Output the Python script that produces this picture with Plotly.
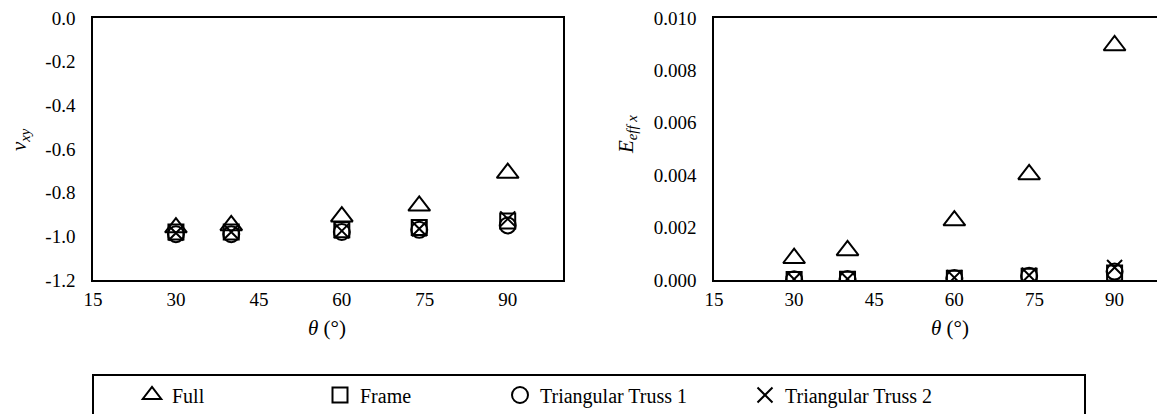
import plotly.graph_objects as go

# ---------------- data ----------------
theta = [30, 40, 60, 74, 90]

nu_full = [-0.96, -0.95, -0.91, -0.86, -0.71]
nu_frame = [-0.98, -0.98, -0.97, -0.96, -0.93]
nu_tt1 = [-0.99, -0.99, -0.98, -0.97, -0.95]
nu_tt2 = [-0.985, -0.98, -0.975, -0.965, -0.92]

E_full = [0.00083, 0.00113, 0.00227, 0.00403, 0.00895]
E_frame = [0.00002, 0.00003, 0.00007, 0.00014, 0.00027]
E_tt1 = [0.00003, 0.00004, 0.00008, 0.00016, 0.00032]
E_tt2 = [0.00003, 0.00004, 0.00009, 0.00018, 0.00048]

series_names = ["Full", "Frame", "Triangular Truss 1", "Triangular Truss 2"]

x_ticks = [15, 30, 45, 60, 75, 90]
nu_ticks = [0.0, -0.2, -0.4, -0.6, -0.8, -1.0, -1.2]
nu_ticktext = ["0.0", "-0.2", "-0.4", "-0.6", "-0.8", "-1.0", "-1.2"]
E_ticks = [0.0, 0.002, 0.004, 0.006, 0.008, 0.010]
E_ticktext = ["0.000", "0.002", "0.004", "0.006", "0.008", "0.010"]

# ---------------- style ----------------
W, H = 1165, 414
OFF = 8  # page body margin
FONT = "Liberation Serif"
symbols = ["triangle-up-open", "square-open", "circle-open", "x-thin-open"]
sizes = [19, 15, 16, 15]
legend_ids = ["legend", "legend2", "legend3", "legend4"]
legend_sym_px = [152, 340, 520, 765]

def px_x(p):
    return (p - OFF) / W

def px_y(p):
    return (H - (p - OFF)) / H

fig = go.Figure()

nu_series = [nu_full, nu_frame, nu_tt1, nu_tt2]
E_series = [E_full, E_frame, E_tt1, E_tt2]

for i, name in enumerate(series_names):
    fig.add_trace(go.Scatter(
        x=theta, y=nu_series[i], mode="markers", name=name,
        marker=dict(symbol=symbols[i], size=sizes[i], color="black",
                    line=dict(color="black", width=2)),
        xaxis="x", yaxis="y", legend=legend_ids[i], showlegend=True))
for i, name in enumerate(series_names):
    fig.add_trace(go.Scatter(
        x=theta, y=E_series[i], mode="markers", name=name,
        marker=dict(symbol=symbols[i], size=sizes[i], color="black",
                    line=dict(color="black", width=2)),
        xaxis="x2", yaxis="y2", showlegend=False))

axis_common = dict(showgrid=False, zeroline=False, showline=True,
                   linecolor="black", linewidth=1.5, ticks="",
                   automargin=False, ticklabeloverflow="allow",
                   tickfont=dict(family=FONT, size=19, color="black"))

dom_y = [px_y(280), px_y(18)]

layout = dict(
    width=W, height=H,
    margin=dict(l=0, r=0, t=0, b=0, pad=0, autoexpand=False),
    paper_bgcolor="white", plot_bgcolor="white",
    font=dict(family=FONT, size=19, color="black"),
    xaxis=dict(domain=[px_x(93), px_x(563)], range=[15, 100],
               tickvals=x_ticks, mirror=True, anchor="y",
               ticklabelstandoff=1, **axis_common),
    yaxis=dict(domain=dom_y, range=[-1.2, 0], tickvals=nu_ticks,
               ticktext=nu_ticktext, mirror=True, anchor="x",
               ticklabelstandoff=12, **axis_common),
    xaxis2=dict(domain=[px_x(714), px_x(1168)], range=[15, 100],
                tickvals=x_ticks, mirror=True, anchor="y2",
                ticklabelstandoff=1, **axis_common),
    yaxis2=dict(domain=dom_y, range=[0, 0.010], tickvals=E_ticks,
                ticktext=E_ticktext, mirror=False, anchor="x2",
                ticklabelstandoff=12, **axis_common),
    showlegend=True,
)

for i, lid in enumerate(legend_ids):
    layout[lid] = dict(
        x=px_x(legend_sym_px[i] - 20), y=px_y(395),
        xanchor="left", yanchor="middle", orientation="h",
        bgcolor="rgba(0,0,0,0)", borderwidth=0,
        font=dict(family=FONT, size=20, color="black"))

fig.update_layout(**layout)

# legend box
fig.add_shape(type="rect", xref="paper", yref="paper",
              x0=px_x(93), x1=px_x(1085), y0=-0.2, y1=px_y(375),
              line=dict(color="black", width=2), fillcolor="rgba(0,0,0,0)",
              layer="below")

title_font = dict(family=FONT, size=21, color="black")
annots = [
    dict(text="<i>ν<sub>xy</sub></i>", x=px_x(20), y=px_y(140), textangle=-90),
    dict(text="<i>E<sub>eff x</sub></i>", x=px_x(627), y=px_y(135), textangle=-90),
    dict(text="<i>θ</i> (°)", x=px_x(327), y=px_y(328), textangle=0),
    dict(text="<i>θ</i> (°)", x=px_x(950), y=px_y(328), textangle=0),
]
for a in annots:
    fig.add_annotation(xref="paper", yref="paper", showarrow=False,
                       xanchor="center", yanchor="middle", font=title_font, **a)

fig.write_html("out.html")
